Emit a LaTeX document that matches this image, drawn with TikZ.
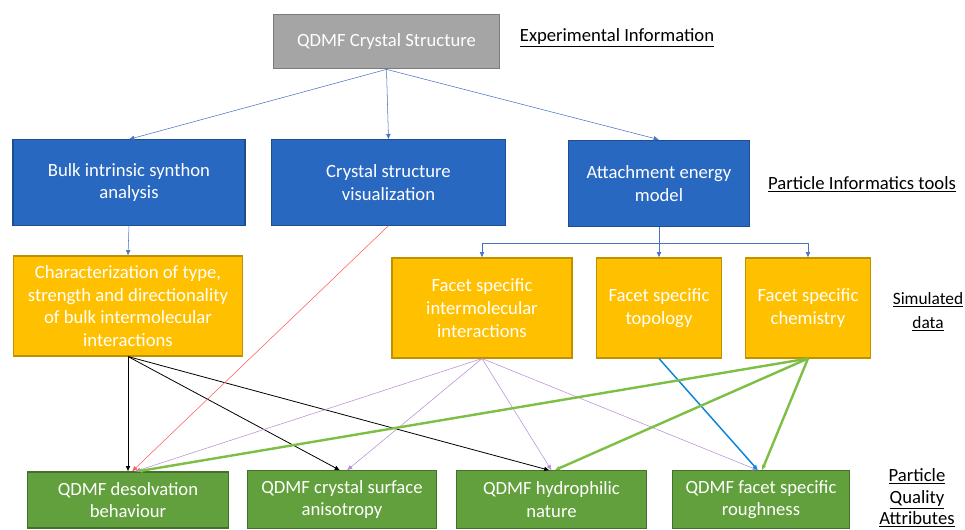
\documentclass[tikz,border=0pt]{standalone}
\usepackage{fontspec}
\setmainfont{Carlito}
\usetikzlibrary{%
    arrows.meta,%
    calc,%
    positioning%
}
\definecolor{boxgray}{HTML}{A5A5A5}
\definecolor{boxblue}{HTML}{2868C0}
\definecolor{boxorange}{HTML}{FFC000}
\definecolor{boxgreen}{HTML}{62A03E}
\definecolor{linkblue}{HTML}{4472C4}
\definecolor{linkred}{HTML}{FF5A5A}
\definecolor{linkpurple}{HTML}{B48CD6}
\definecolor{linkcyan}{HTML}{0A86D8}
\definecolor{linkgreen}{HTML}{7DBE45}
\tikzset{%
    infobox/.style={draw,line width=0.8pt,text=white,align=center,
        font=\fontsize{14}{17}\selectfont,inner sep=2pt},
    graybox/.style={infobox,fill=boxgray,draw=boxgray!75!black},
    bluebox/.style={infobox,fill=boxblue,draw=boxblue!75!black},
    orangebox/.style={infobox,fill=boxorange,draw=boxorange!75!black},
    greenbox/.style={infobox,fill=boxgreen,draw=boxgreen!70!black},
    layertext/.style={align=center,font=\fontsize{14}{17}\selectfont},
    link/.style={-{Latex[length=4pt,width=3.5pt]},line width=0.4pt}
}
\newcommand{\uline}[1]{\underline{#1}}

\begin{document}
\begin{tikzpicture}[x=0.75pt,y=-0.75pt]
    % Fix canvas to the reference size (pixel coordinates)
    \useasboundingbox (0,0) rectangle (965,529);

    % Experimental information
    \node[graybox,minimum width=170pt,minimum height=41pt] (xtal) at (386.5,41.5) {QDMF Crystal Structure};

    % Particle informatics tools
    \node[bluebox,minimum width=174pt,minimum height=64pt] (bisa) at (129,182.5) {Bulk intrinsic synthon\\analysis};
    \node[bluebox,minimum width=175pt,minimum height=64pt] (csv) at (388.5,182.5) {Crystal structure\\visualization};
    \node[bluebox,minimum width=136pt,minimum height=65pt] (aem) at (659,183.5) {Attachment energy\\model};

    % Simulated data
    \node[orangebox,minimum width=172pt,minimum height=75pt] (bulkint) at (128,306) {Characterization of type,\\strength and directionality\\of bulk intermolecular\\interactions};
    \node[orangebox,minimum width=135pt,minimum height=75pt] (fsint) at (482,308) {Facet specific\\intermolecular\\interactions};
    \node[orangebox,minimum width=94pt,minimum height=75pt] (fstopo) at (659,308) {Facet specific\\topology};
    \node[orangebox,minimum width=94pt,minimum height=75pt] (fschem) at (808,308) {Facet specific\\chemistry};

    % Particle quality attributes
    \node[greenbox,minimum width=151pt,minimum height=42pt] (desolv) at (128,500) {QDMF desolvation\\behaviour};
    \node[greenbox,minimum width=142pt,minimum height=43pt] (aniso) at (342,499.5) {QDMF crystal surface\\anisotropy};
    \node[greenbox,minimum width=142pt,minimum height=43pt] (hydro) at (551.5,499.5) {QDMF hydrophilic\\nature};
    \node[greenbox,minimum width=133pt,minimum height=43pt] (rough) at (761,499.5) {QDMF facet specific\\roughness};

    % Layer captions
    \node[layertext] (lblexp) at (617,38) {\uline{Experimental Information}};
    \node[layertext] (lbltool) at (862,184) {\uline{Particle Informatics tools}};
    \node[layertext,font=\fontsize{13}{18}\selectfont] (lblsim) at (928,312) {\uline{Simulated}\\\uline{data}};
    \node[layertext,font=\fontsize{14}{16}\selectfont] (lblpqa) at (917,498) {\uline{Particle}\\\uline{Quality}\\\uline{Attributes}};

    % Crystal structure to informatics tools
    \foreach \t in {bisa,csv,aem}%
    {%
        \draw[link,linkblue] (xtal.south) -- (\t.north);
    }
    \draw[link,linkblue] (bisa.south) -- (bulkint.north);

    % Attachment energy model splits to facet data
    \coordinate (split) at ($(aem.south)+(0,16)$);
    \draw[linkblue,line width=0.4pt] (aem.south) -- (split);
    \foreach \t in {fsint,fstopo,fschem}%
    {%
        \draw[link,linkblue] (split) -| (\t.north);
    }

    % Bulk data to attributes
    \draw[link,black,line width=0.6pt] (bulkint.south) -- (desolv.north);
    \draw[link,black,line width=0.6pt] (bulkint.south) -- ($(aniso.north)+(-2,0)$);
    \draw[link,black,line width=0.6pt] (bulkint.south) -- ($(hydro.north)+(-2,0)$);

    % Visualization to desolvation
    \draw[link,linkred] (csv.south) -- ($(desolv.north)+(4,0)$);

    % Facet specific interactions to all attributes
    \draw[link,linkpurple] (fsint.south) -- ($(desolv.north)+(7,0)$);
    \draw[link,linkpurple] (fsint.south) -- ($(aniso.north)+(5,0)$);
    \draw[link,linkpurple] (fsint.south) -- ($(hydro.north)+(0,0)$);
    \draw[link,linkpurple] (fsint.south) -- ($(rough.north)+(-3,0)$);

    % Topology to roughness
    \draw[link,linkcyan,line width=1.1pt] (fstopo.south) -- ($(rough.north)+(-3,0)$);

    % Chemistry to attributes
    \draw[link,linkgreen,line width=1.8pt] (fschem.south) -- ($(desolv.north)+(9,0)$);
    \draw[link,linkgreen,line width=1.8pt] (fschem.south) -- ($(hydro.north)+(3,0)$);
    \draw[link,linkgreen,line width=1.8pt] (fschem.south) -- ($(rough.north)+(1,0)$);
\end{tikzpicture}
\end{document}
